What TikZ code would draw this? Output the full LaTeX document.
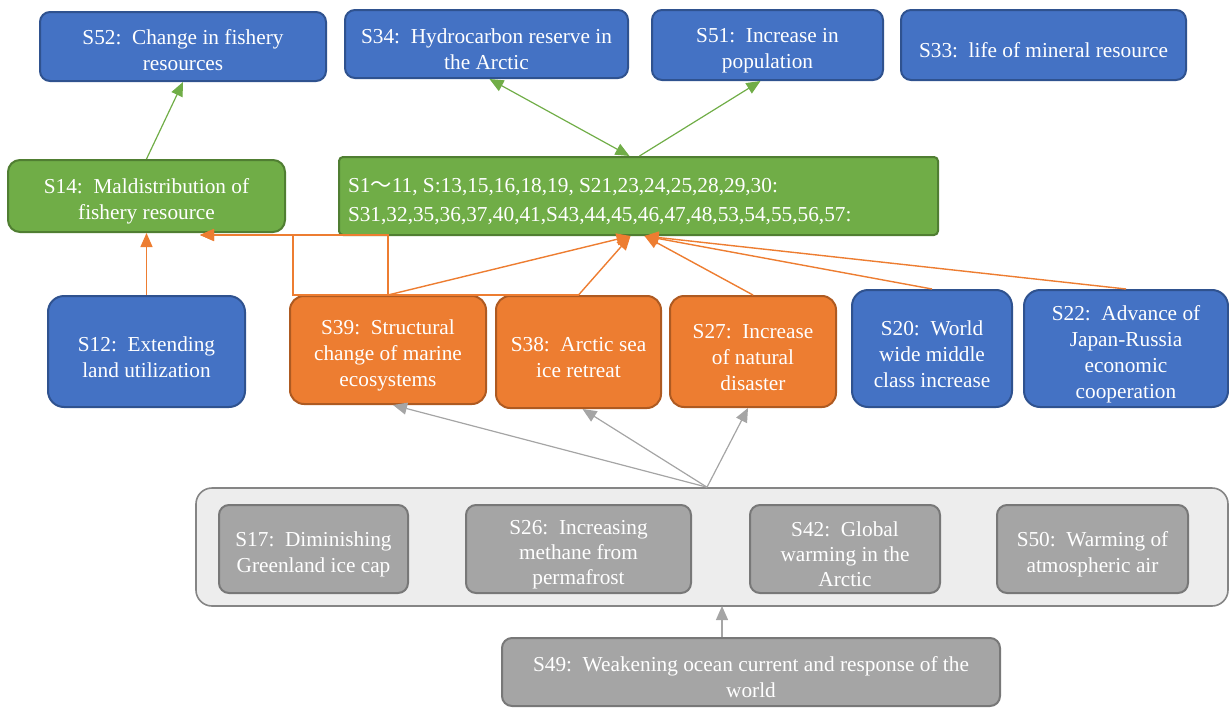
\documentclass[tikz,border=0pt]{standalone}
\usepackage{fontspec}
\setmainfont{Liberation Serif}
\newfontfamily\cjk{Noto Sans CJK JP}
\usepackage{tikz}
\usetikzlibrary{positioning}
\usetikzlibrary{arrows.meta}
\definecolor{myblue}{HTML}{4472C4}
\definecolor{myblueline}{HTML}{2F528F}
\definecolor{mygreen}{HTML}{70AD47}
\definecolor{mygreenline}{HTML}{507E32}
\definecolor{myorange}{HTML}{ED7D31}
\definecolor{myorangeline}{HTML}{AE5A21}
\definecolor{mygray}{HTML}{A5A5A5}
\definecolor{mygrayline}{HTML}{787878}
\definecolor{mylightgray}{HTML}{EDEDED}

\begin{document}
\begin{tikzpicture}[x=1pt,y=1pt,
  box/.style={rounded corners=10pt, line width=2pt, text=white, align=flush center,
    inner sep=0pt, text height=26pt, font=\fontsize{21.3}{26}\selectfont},
  sz/.style 2 args={minimum width=#1, minimum height=#2, text width=#1-14},
  bluebox/.style={box, fill=myblue, draw=myblueline},
  greenbox/.style={box, fill=mygreen, draw=mygreenline},
  orangebox/.style={box, fill=myorange, draw=myorangeline, rounded corners=14pt},
  graybox/.style={box, fill=mygray, draw=mygrayline},
  tip/.style={-{Triangle[length=14pt,width=12pt]}},
  garr/.style={tip, line width=1.2pt, mygreen},
  oarr/.style={tip, line width=1.4pt, myorange},
  warr/.style={tip, line width=1.2pt, mygray}]
\useasboundingbox (0,0) rectangle (1229,-712);

% top row
\node [bluebox, sz={286}{69}, text height=23pt] (s52) at (183,-46.5) {S52:\enspace Change in fishery\\resources};
\node [bluebox, sz={283}{68}] (s34) at (486.5,-44) {S34:\enspace Hydrocarbon reserve in\\the Arctic};
\node [bluebox, sz={231}{70}] (s51) at (767.5,-45) {S51:\enspace Increase in\\population};
\node [bluebox, sz={285}{70}] (s33) at (1043.5,-45) {S33:\enspace life of mineral resource};

% green row
\node [greenbox, sz={277}{72}, rounded corners=12pt] (s14) at (146.5,-196) {S14:\enspace Maldistribution of\\fishery resource};
\node [greenbox, sz={599}{78}, rounded corners=4pt, align=flush left,
  text width=581, inner xsep=9pt, font=\fontsize{21.3}{29}\selectfont] (big) at (638.5,-196)
  {S1{\cjk ～}11, S:13,15,16,18,19, S21,23,24,25,28,29,30:\\S31,32,35,36,37,40,41,S43,44,45,46,47,48,53,54,55,56,57:};

% middle row
\node [bluebox, sz={197}{111}, rounded corners=16pt] (s12) at (146.5,-351.5) {S12:\enspace Extending\\land utilization};
\node [orangebox, sz={196}{108}] (s39) at (388,-350) {S39:\enspace Structural\\change of marine\\ecosystems};
\node [orangebox, sz={165}{112}] (s38) at (578.5,-352) {S38:\enspace Arctic sea\\ice retreat};
\node [orangebox, sz={166}{111}] (s27) at (753,-351.5) {S27:\enspace Increase\\of natural\\disaster};
\node [bluebox, sz={160}{117}, rounded corners=16pt] (s20) at (932,-348.5) {S20:\enspace World\\wide middle\\class increase};
\node [bluebox, sz={204}{117}, rounded corners=16pt] (s22) at (1126,-348.5) {S22:\enspace Advance of\\Japan-Russia\\economic\\cooperation};

% group of causes
\node [box, fill=mylightgray, draw=mygrayline!90, line width=1.6pt, rounded corners=16pt,
  minimum width=1032, minimum height=118] (grp) at (712,-547) {};
\node [graybox, sz={189}{88}] (s17) at (313.5,-549) {S17:\enspace Diminishing\\Greenland ice cap};
\node [graybox, sz={225}{88}, font=\fontsize{21.3}{25}\selectfont] (s26) at (578.5,-549) {S26:\enspace Increasing\\methane from\\permafrost};
\node [graybox, sz={190}{88}, font=\fontsize{21.3}{25}\selectfont] (s42) at (845,-549) {S42:\enspace Global\\warming in the\\Arctic};
\node [graybox, sz={191}{88}] (s50) at (1092.5,-549) {S50:\enspace Warming of\\atmospheric air};
\node [graybox, sz={498}{68}] (s49) at (751,-672) {S49:\enspace Weakening ocean current and response of the\\world};

% green connectors
\draw [garr] (s14.north) -- (s52.south);
\draw [garr, {Triangle[length=14pt,width=12pt]}-{Triangle[length=14pt,width=12pt]}] ([xshift=-9pt]big.north) -- ([xshift=3pt]s34.south);
\draw [garr] ([xshift=1pt]big.north) -- ([xshift=-7pt]s51.south);

% orange connectors
\coordinate (s14in) at (200,-235);
\coordinate (elb) at (293,-235);
\draw [oarr] (s12.north) -- (s14.south);
\draw [oarr, line width=1.1pt] (s39.north) |- (s14in);
\draw [oarr, line width=1.1pt] (s38.north) -| (elb) -- (s14in);
\draw [oarr] (s39.north) -- ([xshift=-8pt]big.south);
\draw [oarr] (s38.north) -- ([xshift=-8pt]big.south);
\draw [oarr] (s27.north) -- ([xshift=6pt]big.south);
\draw [oarr] (s20.north) -- ([xshift=6pt]big.south);
\draw [oarr] (s22.north) -- ([xshift=6pt]big.south);

% gray connectors
\draw [warr] ([xshift=-5pt]grp.north) -- ([xshift=5pt]s39.south);
\draw [warr] ([xshift=-5pt]grp.north) -- ([xshift=4pt]s38.south);
\draw [warr] ([xshift=-5pt]grp.north) -- ([xshift=-5pt]s27.south);
\draw [warr] ([xshift=-29pt]s49.north) -- ++(0,31);
\end{tikzpicture}
\end{document}
